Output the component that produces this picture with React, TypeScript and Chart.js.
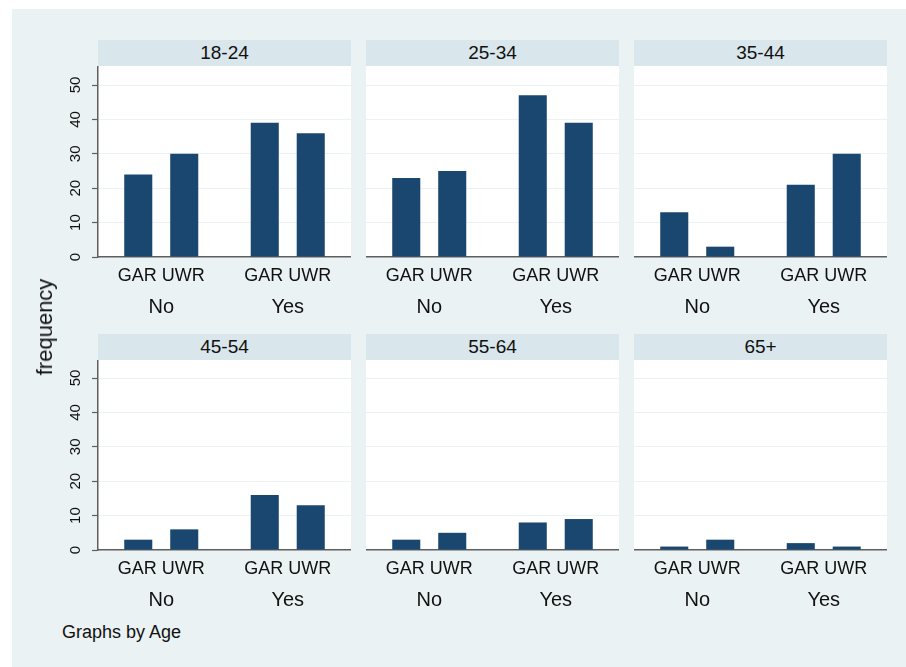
import React, { useEffect, useRef } from 'react';
import { Chart, registerables } from 'chart.js';

Chart.register(...registerables);

// ---- data ----
const ageGroups = ['18-24', '25-34', '35-44', '45-54', '55-64', '65+'];
const groupLabels = ['No', 'Yes'];
const seriesLabels = ['GAR', 'UWR'];
const garNo = [24, 23, 13, 3, 3, 1];
const garYes = [39, 47, 21, 16, 8, 2];
const uwrNo = [30, 25, 3, 6, 5, 3];
const uwrYes = [36, 39, 30, 13, 9, 1];
const yTickStep = 10;
const yAxisTitle = 'frequency';
const noteText = 'Graphs by Age';

// ---- style / layout ----
const FONT = "'Liberation Sans', Arial, Helvetica, sans-serif";
const BG = '#eaf2f3';
const STRIP = '#d9e6eb';
const BAR = '#1a476f';
const AXIS = '#5e5e5e';
const TEXT = '#111111';
const colLeft = [98, 366, 634];
const panelW = 253;
const headerTop = [40, 334];
const headerH = 26;
const plotH = [191, 190];
const pxPerUnit = 3.44;
const xLabH = 38;
const x2LabH = 30;
const leftAxisW = 43;

function Panel({ index }: { index: number }) {
  const ref = useRef<HTMLCanvasElement | null>(null);
  const row = Math.floor(index / 3);
  const col = index % 3;
  const isLeft = col === 0;
  const yW = isLeft ? leftAxisW : 0;
  const canvasLeft = colLeft[col] - yW;
  const canvasW = panelW + yW;
  const plotTop = headerTop[row] + headerH;
  const canvasH = plotH[row] + xLabH + x2LabH;
  const yMax = plotH[row] / pxPerUnit;

  useEffect(() => {
    if (!ref.current) return;
    const whiteArea = {
      id: 'whiteArea',
      beforeDraw(chart: any) {
        const { ctx, chartArea } = chart;
        ctx.save();
        ctx.fillStyle = '#ffffff';
        ctx.fillRect(chartArea.left, chartArea.top, chartArea.right - chartArea.left, chartArea.bottom - chartArea.top);
        ctx.restore();
      },
    };
    const rotatedTicks = {
      id: 'rotatedTicks',
      afterDraw(chart: any) {
        if (!isLeft) return;
        const { ctx, chartArea } = chart;
        const scale = chart.scales.y;
        ctx.save();
        ctx.fillStyle = TEXT;
        ctx.font = `15px ${FONT}`;
        ctx.textAlign = 'center';
        ctx.textBaseline = 'middle';
        scale.ticks.forEach((t: any) => {
          const py = scale.getPixelForValue(t.value);
          ctx.save();
          ctx.translate(chartArea.left - 22, py);
          ctx.rotate(-Math.PI / 2);
          ctx.fillText(String(t.value), 0, 0);
          ctx.restore();
        });
        ctx.restore();
      },
    };
    const chart = new Chart(ref.current, {
      type: 'bar',
      data: {
        labels: groupLabels,
        datasets: [
          {
            label: seriesLabels[0],
            data: [garNo[index], garYes[index]],
            backgroundColor: BAR,
            categoryPercentage: 0.727,
            barPercentage: 0.61,
            xAxisID: 'x',
          },
          {
            label: seriesLabels[1],
            data: [uwrNo[index], uwrYes[index]],
            backgroundColor: BAR,
            categoryPercentage: 0.727,
            barPercentage: 0.61,
            xAxisID: 'x',
          },
        ],
      },
      options: {
        animation: false,
        responsive: false,
        layout: { padding: 0 },
        plugins: {
          legend: { display: false },
          tooltip: { enabled: false },
          title: { display: false },
        },
        scales: {
          x: {
            type: 'category',
            position: 'bottom',
            weight: 0,
            grid: { display: false, drawTicks: false },
            border: { display: true, color: AXIS, width: 1.5 },
            ticks: {
              callback: () => seriesLabels.join(' '),
              font: { family: FONT, size: 18 },
              color: TEXT,
              padding: 8,
              maxRotation: 0,
              autoSkip: false,
            },
            afterFit: (s: any) => {
              s.height = xLabH;
            },
          },
          x2: {
            type: 'category',
            position: 'bottom',
            weight: 1,
            labels: groupLabels,
            grid: { display: false, drawTicks: false },
            border: { display: false },
            ticks: {
              font: { family: FONT, size: 20 },
              color: TEXT,
              padding: 0,
              maxRotation: 0,
              autoSkip: false,
            },
            afterFit: (s: any) => {
              s.height = x2LabH;
            },
          },
          y: {
            type: 'linear',
            position: 'left',
            min: 0,
            max: yMax,
            ticks: { display: false, stepSize: yTickStep, includeBounds: false },
            grid: {
              color: BG,
              lineWidth: 1,
              drawTicks: isLeft,
              tickLength: 6,
              tickColor: AXIS,
              tickWidth: 1.2,
            },
            border: { display: isLeft, color: AXIS, width: 1.5 },
            afterFit: (s: any) => {
              s.width = yW;
            },
          },
        },
      } as any,
      plugins: [whiteArea, rotatedTicks],
    });
    return () => chart.destroy();
  }, [index]);

  return (
    <>
      <div
        style={{
          position: 'absolute',
          left: colLeft[col],
          top: headerTop[row],
          width: panelW,
          height: headerH,
          lineHeight: `${headerH}px`,
          background: STRIP,
          textAlign: 'center',
          fontSize: 19,
          color: TEXT,
        }}
      >
        {ageGroups[index]}
      </div>
      <canvas
        ref={ref}
        width={canvasW}
        height={canvasH}
        style={{ position: 'absolute', left: canvasLeft, top: plotTop, width: canvasW, height: canvasH }}
      />
    </>
  );
}

export default function App() {
  return (
    <div
      style={{
        position: 'absolute',
        left: 0,
        top: 0,
        width: 906,
        height: 667,
        background: '#ffffff',
        overflow: 'hidden',
        fontFamily: FONT,
      }}
    >
      <div style={{ position: 'absolute', left: 12, top: 9, right: 0, bottom: 0, background: BG }} />
      {ageGroups.map((_, i) => (
        <Panel key={i} index={i} />
      ))}
      <div
        style={{
          position: 'absolute',
          left: 45,
          top: 327,
          transform: 'translate(-50%, -50%) rotate(-90deg)',
          whiteSpace: 'nowrap',
          fontSize: 22,
          lineHeight: 1,
          color: TEXT,
        }}
      >
        {yAxisTitle}
      </div>
      <div
        style={{
          position: 'absolute',
          left: 62,
          top: 622,
          fontSize: 18,
          lineHeight: '20px',
          color: TEXT,
          whiteSpace: 'nowrap',
        }}
      >
        {noteText}
      </div>
    </div>
  );
}
